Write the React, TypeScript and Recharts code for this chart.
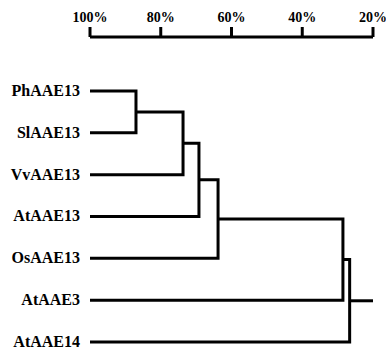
import React from 'react'
import { ScatterChart, Scatter, XAxis, YAxis } from 'recharts'

// leaves top to bottom
const leafNames = ['PhAAE13', 'SlAAE13', 'VvAAE13', 'AtAAE13', 'OsAAE13', 'AtAAE3', 'AtAAE14']
// merges: [child a, child b, similarity %]; ids 0-6 are leaves, merges get 7, 8, ...
const merges: [number, number, number][] = [
  [0, 1, 87],
  [7, 2, 73.7],
  [8, 3, 69.2],
  [9, 4, 63.8],
  [10, 5, 28.5],
  [11, 6, 26.6],
]
const leafHeight = 100
const rootEnd = 20
const axisTicks = [100, 80, 60, 40, 20]

const FONT = 'Liberation Serif, DejaVu Serif, serif'

function buildSegments() {
  const ys: number[] = leafNames.map((_, i) => i)
  const hs: number[] = leafNames.map(() => leafHeight)
  const segs: { x: number; y: number }[][] = []
  merges.forEach(([a, b, h]) => {
    segs.push([
      { x: hs[a], y: ys[a] },
      { x: h, y: ys[a] },
      { x: h, y: ys[b] },
      { x: hs[b], y: ys[b] },
    ])
    ys.push((ys[a] + ys[b]) / 2)
    hs.push(h)
  })
  const root = ys.length - 1
  segs.push([
    { x: hs[root], y: ys[root] },
    { x: rootEnd, y: ys[root] },
  ])
  return segs
}

const segments = buildSegments()

function TopTick(props: any) {
  const { x, y, payload } = props
  return (
    <text x={x} y={y} textAnchor="middle" fill="#000" style={{ fontFamily: FONT, fontSize: 14, fontWeight: 700 }}>
      {`${payload.value}%`}
    </text>
  )
}

function LeafTick(props: any) {
  const { x, y, payload } = props
  return (
    <text x={x} y={y} dy={5} textAnchor="end" fill="#000" style={{ fontFamily: FONT, fontSize: 16, fontWeight: 700 }}>
      {leafNames[payload.value] ?? ''}
    </text>
  )
}

export default function App() {
  return (
    <div style={{ position: 'absolute', left: 0, top: 0, width: 386, height: 352, background: '#fff', fontFamily: FONT }}>
      <ScatterChart width={386} height={352} margin={{ top: 0, right: 13, bottom: 0, left: 0 }}>
        <XAxis
          type="number"
          dataKey="x"
          orientation="top"
          domain={[20, 100]}
          reversed
          ticks={axisTicks}
          height={37}
          tickSize={10}
          tickMargin={5}
          axisLine={{ stroke: '#000', strokeWidth: 3 }}
          tickLine={{ stroke: '#000', strokeWidth: 3 }}
          tick={<TopTick />}
          allowDataOverflow
        />
        <YAxis
          type="number"
          dataKey="y"
          domain={[-1.29, 6.24]}
          reversed
          ticks={[0, 1, 2, 3, 4, 5, 6]}
          width={90}
          axisLine={false}
          tickLine={false}
          tickMargin={4}
          tick={<LeafTick />}
          allowDataOverflow
          interval={0}
        />
        {segments.map((seg, i) => (
          <Scatter
            key={i}
            data={seg}
            line={{ stroke: '#000', strokeWidth: 3, strokeLinejoin: 'miter' }}
            lineType="joint"
            shape={() => <g />}
            isAnimationActive={false}
          />
        ))}
      </ScatterChart>
    </div>
  )
}
